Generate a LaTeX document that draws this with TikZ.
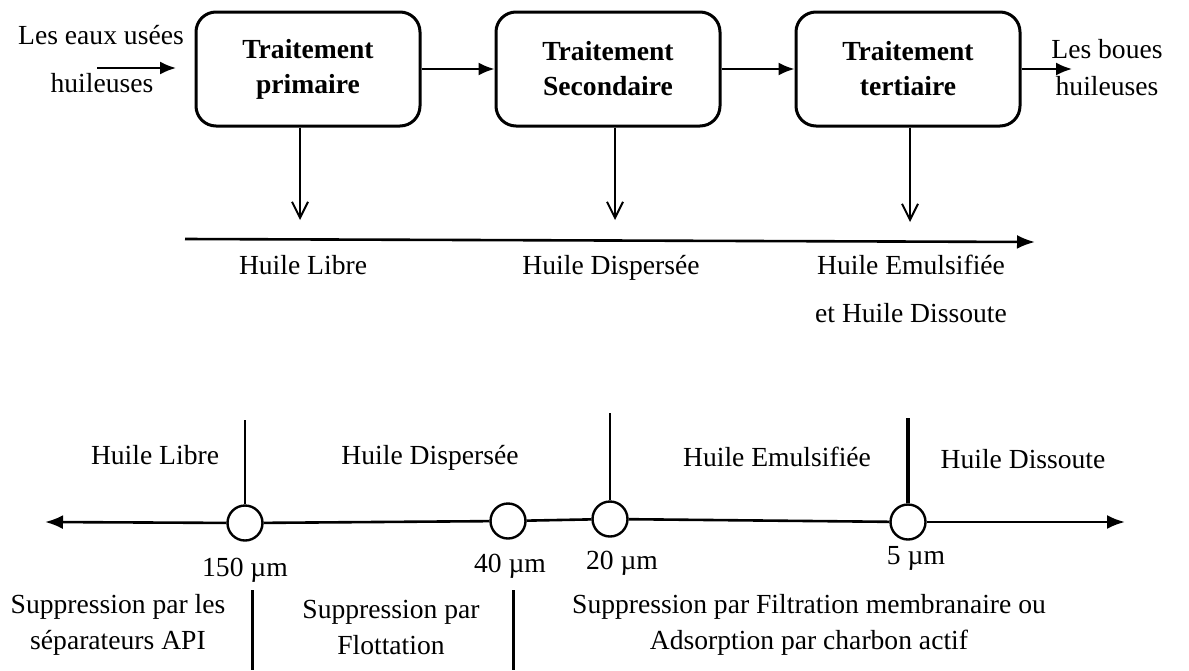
\documentclass[tikz,border=0pt]{standalone}
\usepackage{fontspec}
\setmainfont{Liberation Serif}
\usetikzlibrary{arrows.meta,positioning}

\begin{document}
\begin{tikzpicture}[x=0.5pt,y=-0.5pt,
  box/.style={draw,line width=1.5pt,rounded corners=10pt,minimum width=112pt,minimum height=57pt,align=center,font=\fontsize{13.8}{17.5}\selectfont\bfseries},
  txt/.style={align=center,inner sep=0pt,font=\fontsize{13.8}{18}\selectfont},
  lbl/.style={txt,text height=9.5pt,text depth=3pt},
  flow/.style={line width=1pt,-{Latex[length=8pt,width=6.5pt]}},
  down/.style={line width=1pt,-{Straight Barb[length=8pt,width=8pt]}},
  Big/.tip={Latex[length=9pt,width=7pt]},
  ring/.style={circle,draw,line width=1.2pt,minimum size=17.5pt,inner sep=0pt,fill=white}]
\useasboundingbox (0,0) rectangle (1189,670);
% chaine de traitement
\node[box] (b1) at (308,69) {Traitement\\primaire};
\node[box] (b2) at (608,69) {Traitement\\Secondaire};
\node[box] (b3) at (908,69) {Traitement\\tertiaire};
\node[lbl] (in1) at (101,38) {Les eaux usées};
\node[lbl] (in2) at (102,86) {huileuses};
\node[lbl] (out1) at (1107,52) {Les boues};
\node[lbl] (out2) at (1107,89) {huileuses};
\coordinate (ina) at (97,68);
\coordinate (inb) at (176,68);
\coordinate (outb) at (1072,69);
\draw[flow] (ina) -- (inb);
\draw[flow] (b1) -- (b2);
\draw[flow] (b2) -- (b3);
\draw[flow] (b3) -- (outb);
% sorties
\coordinate (d1) at (300,220);
\coordinate (d2) at (615,220);
\coordinate (d3) at (910,222);
\draw[down] (d1 |- b1.south) -- (d1);
\draw[down] (d2 |- b2.south) -- (d2);
\draw[down] (d3 |- b3.south) -- (d3);
\coordinate (hl) at (185,239);
\coordinate (hr) at (1035,242);
\draw[line width=1.3pt,-Big] (hl) -- (hr);
\node[lbl] (h1) at (303,268) {Huile Libre};
\node[lbl] (h2) at (611,268) {Huile Dispersée};
\node[lbl] (h3) at (911,268) {Huile Emulsifiée};
\node[lbl] (h4) at (911,316) {et Huile Dissoute};
% echelle des tailles
\coordinate (al) at (45,522);
\coordinate (ar) at (1125,522);
\node[ring] (c1) at (245,523) {};
\node[ring] (c2) at (508,521) {};
\node[ring] (c3) at (610,519) {};
\node[ring] (c4) at (908,522) {};
\draw[line width=1.3pt,Big-] (al) -- (c1);
\draw[line width=1.3pt] (c1) -- (c2);
\draw[line width=1.3pt] (c2) -- (c3);
\draw[line width=1.3pt] (c3) -- (c4);
\draw[line width=1.3pt,-Big] (c4) -- (ar);
\draw[line width=1.2pt] (c1.north) -- (c1.north |- 0,420);
\draw[line width=1.2pt] (c3.north) -- (c3.north |- 0,413);
\draw[line width=2pt] (c4.north) -- (c4.north |- 0,418);
\coordinate (s1) at (252,590);
\coordinate (s2) at (513,590);
\draw[line width=1.5pt] (s1) -- (s1 |- 0,670);
\draw[line width=1.5pt] (s2) -- (s2 |- 0,670);
\node[lbl] (z1) at (155,458) {Huile Libre};
\node[lbl] (z2) at (430,458) {Huile Dispersée};
\node[lbl] (z3) at (777,460) {Huile Emulsifiée};
\node[lbl] (z4) at (1023,462) {Huile Dissoute};
\node[lbl] (m1) at (245,570) {150 µm};
\node[lbl] (m2) at (510,566) {40 µm};
\node[lbl] (m3) at (622,563) {20 µm};
\node[lbl] (m4) at (916,558) {5 µm};
\node[txt] (p1) at (118,625) {Suppression par les\\séparateurs API};
\node[txt] (p2) at (391,627) {Suppression par\\Flottation};
\node[txt] (p3) at (809,625) {Suppression par Filtration membranaire ou\\Adsorption par charbon actif};
\end{tikzpicture}
\end{document}
